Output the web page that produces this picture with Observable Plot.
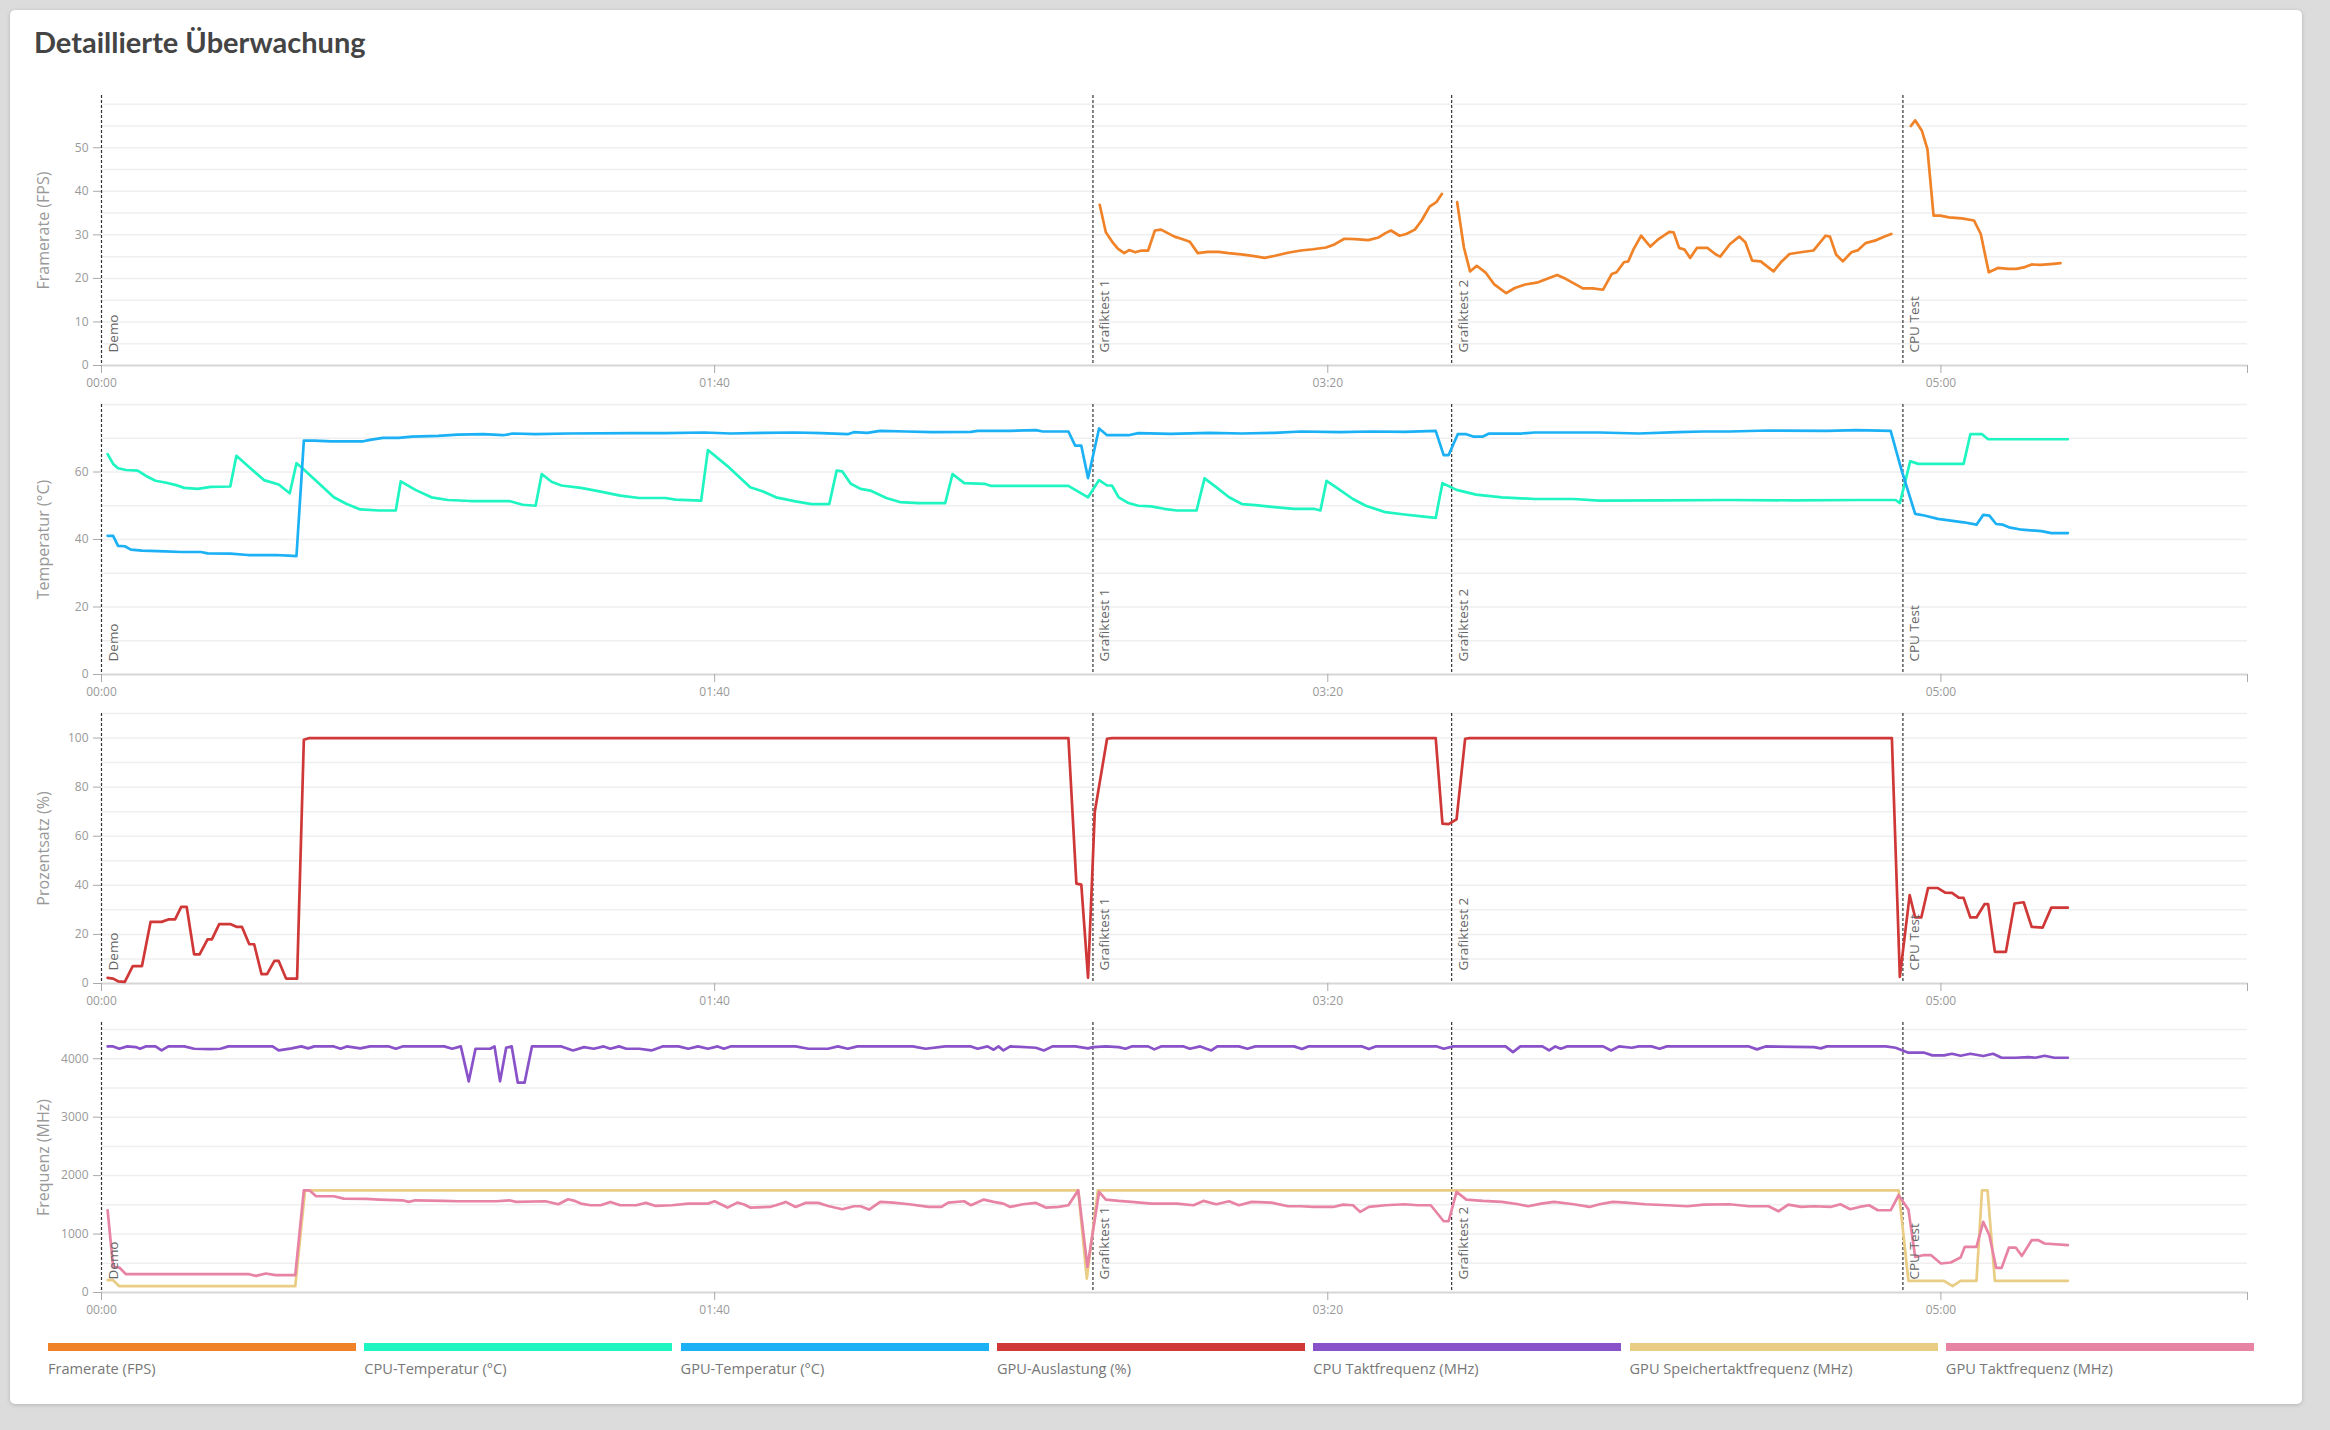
<!DOCTYPE html>
<html>
<head>
<meta charset="utf-8">
<script src="https://cdn.jsdelivr.net/npm/d3@7"></script>
<script src="https://cdn.jsdelivr.net/npm/@observablehq/plot@0.6"></script>
<style>
  html, body { margin: 0; padding: 0; }
  body { width: 2330px; height: 1430px; background: #dcdcdc; position: relative; overflow: hidden; font-family: "Open Sans", sans-serif; }
  #card { position: absolute; left: 10px; top: 10px; width: 2292px; height: 1394px; background: #fff; border-radius: 5px; box-shadow: 0 1px 4px rgba(0,0,0,0.18); }
  #title { position: absolute; left: 34px; top: 25px; font-family: Lato, sans-serif; font-weight: 700; font-size: 29px; line-height: 34px; color: #444; }
  .panel { position: absolute; left: 0; }
  .lg { position: absolute; }
  .lg .bar { width: 308px; height: 8px; }
  .lg .lab { margin-top: 8px; font-size: 14.6px; line-height: 18px; color: #777; white-space: nowrap; }
</style>
</head>
<body>
<div id="card"></div>
<div id="title">Detaillierte Überwachung</div>
<div id="charts"></div>
<div id="legend"></div>
<script>
// ---------- data (time in seconds, value) ----------
const markerNames = ["Demo", "Grafiktest 1", "Grafiktest 2", "CPU Test"];
const markerTimes = [0, 161.7, 220.2, 293.8];

const seriesNames = ["Framerate (FPS)", "CPU-Temperatur (°C)", "GPU-Temperatur (°C)", "GPU-Auslastung (%)", "CPU Taktfrequenz (MHz)", "GPU Speichertaktfrequenz (MHz)", "GPU Taktfrequenz (MHz)"];
const seriesColors = ["#f08228", "#1ef5c1", "#1cb0f5", "#d03838", "#8a52c8", "#e9cd84", "#e884a3"];

const fpsGT1 = [[162.8,36.9],[163.8,30.6],[164.9,28.3],[165.8,26.8],[166.8,25.8],[167.6,26.5],[168.6,26],[169.6,26.4],[170.7,26.4],[171.8,31],[172.8,31.2],[173.9,30.4],[175.0,29.6],[176.1,29.1],[177.5,28.4],[178.8,25.8],[180.4,26.1],[182.2,26.1],[183.8,25.8],[185.9,25.5],[188.0,25.1],[189.7,24.7],[191.4,25.2],[193.5,25.9],[195.6,26.4],[197.6,26.7],[199.7,27.1],[201.1,27.8],[202.7,29.1],[204.5,29],[206.6,28.8],[208.3,29.4],[209.4,30.4],[210.3,31],[211.7,29.8],[212.8,30.2],[214.2,31.2],[215.3,33.3],[216.6,36.5],[217.7,37.5],[218.6,39.4]];
const fpsGT2 = [[221.1,37.5],[222.2,27.1],[223.2,21.6],[224.3,22.9],[225.7,21.4],[227.1,18.7],[229.1,16.6],[230.5,17.8],[232.2,18.6],[234.3,19.1],[235.9,20],[237.4,20.8],[238.8,19.9],[241.6,17.7],[243.2,17.7],[244.9,17.4],[246.3,21],[247.1,21.4],[248.3,23.7],[249.0,23.9],[249.9,26.8],[251.1,29.8],[252.6,27.3],[254.0,29.1],[255.7,30.7],[256.4,30.6],[257.3,27],[258.2,26.6],[259.1,24.7],[260.2,27],[261.9,27],[263.3,25.5],[264.0,25],[265.6,27.9],[267.1,29.6],[268.1,28.3],[269.2,24.1],[270.6,23.9],[272.7,21.6],[273.9,23.7],[275.3,25.6],[277.1,26],[279.2,26.4],[281.2,29.8],[281.9,29.6],[282.9,25.5],[284.0,23.9],[285.4,26],[286.5,26.5],[287.7,28.1],[289.5,28.8],[290.9,29.7],[291.9,30.2]];
const fpsCPU = [[295.1,55],[295.8,56.3],[296.9,53.9],[297.8,49.7],[298.8,34.4],[299.9,34.4],[301.3,34],[303.4,33.8],[305.4,33.3],[306.5,30.2],[307.8,21.4],[309.3,22.4],[311.0,22.2],[312.3,22.2],[313.7,22.6],[314.8,23.2],[316.2,23.1],[317.9,23.3],[319.5,23.5]];

const cpuTemp = [[1.0,65.3],[1.9,62.4],[2.7,61.1],[4.0,60.6],[5.9,60.4],[7.2,58.9],[8.8,57.4],[10.4,56.9],[12.0,56.2],[13.5,55.3],[15.7,55.0],[17.8,55.6],[21.0,55.7],[22.0,64.8],[24.1,61.4],[26.5,57.6],[28.9,56.3],[30.7,53.7],[31.8,62.6],[32.6,61.4],[35.3,56.9],[37.9,52.5],[40.0,50.5],[42.2,48.9],[45.3,48.6],[48.0,48.6],[48.8,57.2],[51.2,54.7],[53.8,52.5],[56.5,51.7],[60.2,51.4],[66.5,51.4],[68.7,50.3],[70.8,50.0],[71.8,59.4],[73.4,57.1],[75.0,56.0],[78.2,55.3],[81.4,54.2],[84.6,53.0],[87.7,52.3],[92.0,52.3],[93.6,51.8],[97.8,51.5],[98.9,66.5],[102.0,61.9],[105.8,55.5],[107.9,54.2],[110.0,52.5],[113.2,51.3],[115.8,50.5],[118.7,50.5],[119.9,60.4],[120.8,60.2],[122.2,56.5],[123.8,55.0],[125.4,54.5],[128.0,52.3],[130.2,51.1],[133.3,50.8],[137.6,50.8],[138.8,59.4],[140.7,56.7],[144.0,56.5],[145.0,55.9],[157.7,55.9],[160.9,52.5],[162.7,57.6],[164.0,56.0],[164.8,56.0],[165.9,52.5],[167.5,50.8],[169.1,50.0],[171.2,49.8],[173.3,49.1],[175.4,48.6],[178.6,48.6],[179.9,58.1],[181.8,55.5],[183.9,52.5],[186.0,50.5],[188.2,50.2],[191.3,49.6],[194.5,49.1],[197.7,49.1],[198.8,48.6],[199.8,57.4],[201.9,54.8],[204.1,52.0],[206.2,50.0],[209.4,48.1],[212.5,47.4],[215.7,46.8],[217.6,46.4],[218.7,56.7],[221.0,54.7],[224.2,53.3],[228.4,52.5],[233.7,52.0],[240.1,52.0],[244.3,51.5],[254.9,51.6],[265.5,51.7],[276.1,51.6],[286.7,51.7],[292.6,51.7],[293.3,50.8],[295.0,63.2],[296.3,62.4],[303.7,62.4],[304.8,71.2],[306.7,71.2],[307.7,69.7],[313.2,69.7],[320.7,69.7]];
const gpuTemp = [[1.0,41.1],[1.9,41.1],[2.7,38.1],[3.8,38.0],[4.8,37.0],[6.6,36.7],[10.4,36.5],[13.0,36.3],[16.2,36.3],[17.3,35.9],[21.0,35.8],[23.9,35.4],[28.4,35.4],[30.5,35.2],[31.8,35.1],[33.0,69.3],[34.7,69.3],[37.4,69.1],[42.7,69.1],[43.8,69.5],[45.9,70.1],[48.5,70.1],[50.6,70.5],[54.9,70.7],[58.1,71.1],[62.3,71.2],[65.5,70.9],[67.1,71.4],[70.8,71.2],[76.1,71.4],[86.7,71.5],[92.0,71.5],[98.3,71.7],[102.6,71.4],[107.9,71.6],[113.2,71.7],[117.4,71.5],[121.7,71.2],[122.7,71.8],[124.9,71.6],[127.0,72.2],[131.2,72.0],[135.5,71.8],[141.8,71.9],[142.9,72.2],[148.2,72.2],[152.4,72.4],[153.5,72.0],[157.7,72.0],[158.8,67.8],[159.8,67.8],[160.9,58.2],[162.7,72.9],[164.0,70.9],[167.5,70.9],[169.1,71.5],[174.4,71.3],[180.7,71.6],[186.0,71.4],[191.3,71.6],[195.6,72.0],[201.9,71.8],[207.2,72.0],[212.5,71.9],[217.6,72.2],[218.9,65.0],[219.7,65.0],[221.2,71.2],[222.6,71.2],[223.7,70.5],[225.3,70.5],[226.3,71.4],[231.6,71.4],[233.7,71.7],[244.3,71.7],[250.7,71.4],[257.1,71.8],[261.3,72.0],[265.5,72.0],[271.9,72.3],[281.4,72.2],[286.2,72.4],[291.8,72.2],[293.6,60.4],[295.8,47.6],[297.3,47.1],[299.5,46.1],[301.6,45.6],[303.7,45.1],[305.8,44.4],[306.9,47.3],[307.9,47.1],[309.0,44.6],[310.1,44.4],[311.1,43.6],[313.2,42.9],[316.4,42.5],[318.0,41.9],[320.7,41.9]];

const gpuLoad = [[1.0,2.3],[1.9,2.0],[2.7,0.9],[3.8,0.7],[5.1,7.1],[6.6,7.1],[8.0,25.1],[9.8,25.1],[10.9,26.1],[12.0,26.1],[13.0,31.2],[13.9,31.2],[15.1,11.9],[16.0,11.9],[17.3,18.0],[18.0,18.0],[19.2,24.2],[21.0,24.2],[22.0,23.1],[22.9,23.1],[24.1,16.0],[24.9,16.0],[26.1,3.8],[27.0,3.8],[28.2,9.2],[28.9,9.2],[30.1,2.0],[31.9,2.0],[33.0,99.3],[33.9,100],[157.7,100],[159.0,40.7],[159.8,40.3],[160.9,2.4],[162.0,70],[164.0,99.7],[164.8,100],[217.6,100],[218.7,65.1],[219.7,64.9],[221.0,66.9],[222.4,99.7],[223.1,100],[292.0,100],[293.3,2.7],[294.9,36.0],[295.8,26.9],[296.8,26.9],[297.9,38.9],[299.5,38.9],[300.7,37.0],[301.8,36.9],[302.9,35.0],[303.7,34.9],[304.8,26.9],[305.8,26.9],[307.1,32.3],[307.7,32.3],[308.8,12.9],[310.6,12.9],[312.0,32.6],[313.5,33.1],[314.8,23.1],[316.6,22.8],[318.0,30.9],[320.7,30.9]];

const cpuClock = [[1.0,4211],[1.9,4211],[2.9,4171],[4.2,4211],[5.6,4199],[6.3,4171],[7.2,4211],[8.8,4211],[9.8,4142],[10.9,4211],[13.5,4211],[15.1,4171],[17.8,4165],[19.4,4171],[20.7,4211],[27.9,4211],[28.9,4142],[31.0,4177],[32.6,4211],[33.7,4177],[34.7,4211],[37.9,4211],[39.0,4171],[40.0,4211],[42.2,4177],[43.8,4211],[46.9,4211],[48.0,4171],[49.1,4211],[55.9,4211],[57.2,4171],[58.6,4211],[59.9,3613],[61.0,4171],[63.4,4171],[64.1,4211],[65.0,3613],[66.0,4188],[66.9,4211],[67.9,3590],[69.0,3590],[70.2,4211],[75.0,4211],[76.9,4142],[78.7,4199],[80.3,4171],[81.9,4211],[83.0,4171],[84.4,4211],[85.6,4171],[87.7,4171],[89.7,4142],[91.5,4211],[94.1,4211],[95.7,4171],[97.3,4211],[98.9,4171],[100.5,4211],[101.5,4171],[102.6,4211],[113.2,4211],[115.3,4171],[118.5,4171],[120.1,4211],[121.7,4171],[123.3,4211],[132.3,4211],[134.4,4171],[137.6,4211],[141.8,4211],[142.9,4171],[144.5,4211],[145.5,4154],[146.3,4211],[147.1,4142],[148.2,4211],[152.4,4188],[153.7,4142],[155.1,4211],[158.8,4211],[160.9,4177],[161.7,4199],[163.8,4211],[165.9,4199],[167.0,4171],[168.0,4211],[170.7,4211],[171.7,4160],[172.8,4211],[176.5,4211],[177.5,4171],[179.2,4211],[180.2,4171],[181.0,4142],[182.0,4211],[185.5,4211],[186.9,4171],[188.2,4211],[194.5,4211],[195.8,4165],[196.8,4211],[205.6,4211],[206.7,4165],[207.8,4211],[217.8,4211],[218.9,4171],[220.5,4211],[229.0,4211],[230.2,4114],[231.4,4211],[235.0,4211],[236.1,4142],[237.1,4211],[238.0,4171],[239.0,4211],[244.9,4211],[246.2,4142],[247.5,4211],[249.6,4188],[250.7,4211],[252.8,4211],[254.1,4171],[255.3,4211],[268.7,4211],[270.0,4160],[271.4,4211],[279.3,4199],[280.4,4177],[281.4,4211],[291.0,4211],[292.6,4188],[294.7,4103],[297.3,4103],[298.6,4057],[300.5,4057],[301.8,4085],[303.2,4051],[304.8,4085],[306.9,4046],[308.5,4085],[309.9,4017],[312.2,4017],[314.3,4028],[315.4,4017],[316.9,4051],[318.5,4017],[320.7,4017]];
const gpuMemClock = [[1.0,211],[1.9,211],[2.9,108],[31.6,108],[33.2,1749],[159.3,1749],[160.7,239],[162.5,1749],[293.1,1749],[294.7,199],[300.5,199],[301.9,108],[303.2,199],[305.8,199],[306.7,1749],[307.6,1749],[308.8,199],[320.7,199]];
const gpuClock = [[1.0,1407],[1.9,439],[2.9,427],[4.0,313],[24.1,313],[25.2,285],[26.8,325],[28.4,296],[31.6,296],[33.0,1749],[33.9,1749],[35.0,1647],[37.9,1647],[39.5,1607],[43.2,1601],[45.3,1590],[49.1,1578],[50.1,1550],[51.2,1578],[55.9,1567],[58.1,1561],[64.4,1561],[66.5,1578],[67.6,1550],[72.4,1561],[74.5,1510],[76.1,1595],[77.2,1567],[78.2,1521],[79.8,1493],[81.4,1493],[83.0,1550],[84.6,1493],[87.2,1493],[88.8,1533],[90.4,1481],[93.0,1493],[95.7,1521],[98.9,1521],[100.0,1561],[102.1,1453],[103.7,1538],[104.7,1510],[105.8,1453],[109.0,1464],[110.0,1493],[111.6,1550],[113.2,1464],[114.8,1533],[116.9,1533],[118.5,1481],[120.8,1425],[122.7,1476],[123.8,1476],[125.2,1419],[127.0,1550],[129.1,1538],[131.7,1510],[134.9,1464],[137.0,1464],[138.1,1538],[140.7,1561],[141.8,1493],[143.9,1590],[145.5,1550],[147.1,1521],[148.2,1464],[150.3,1510],[152.4,1533],[154.0,1453],[156.1,1464],[157.7,1493],[159.3,1749],[160.8,439],[162.7,1721],[163.8,1590],[165.9,1567],[168.0,1550],[171.2,1521],[175.4,1521],[178.1,1493],[179.7,1567],[181.8,1510],[183.9,1561],[185.5,1493],[187.6,1550],[190.8,1538],[193.5,1476],[195.6,1476],[197.7,1464],[200.9,1464],[202.5,1504],[204.1,1493],[205.3,1379],[206.7,1464],[209.4,1493],[212.5,1510],[214.7,1493],[216.8,1493],[218.9,1219],[219.7,1219],[221.0,1721],[222.6,1590],[225.3,1567],[228.4,1550],[231.1,1510],[232.7,1476],[234.8,1521],[236.9,1550],[240.1,1510],[242.7,1464],[244.3,1510],[246.5,1550],[248.6,1538],[251.8,1510],[255.5,1493],[258.7,1476],[261.3,1504],[265.5,1510],[268.7,1476],[271.9,1476],[273.5,1390],[275.1,1504],[277.2,1464],[279.3,1476],[282.0,1464],[283.6,1510],[285.2,1425],[286.7,1464],[288.3,1493],[289.7,1407],[291.8,1407],[293.1,1664],[294.7,1419],[295.8,610],[297.1,638],[298.4,638],[300.0,496],[301.6,513],[303.2,598],[303.9,781],[305.8,781],[306.9,1208],[307.9,980],[309.0,422],[309.9,422],[311.1,769],[312.2,769],[313.2,627],[314.8,895],[315.9,895],[316.9,838],[320.7,809]];

const xTicks = [0, 100, 200, 300, 350];
const yLabels = ["Framerate (FPS)", "Temperatur (°C)", "Prozentsatz (%)", "Frequenz (MHz)"];
const yDomainMax = [62, 80, 110, 4620];
const yTicks = [[0,10,20,30,40,50],[0,20,40,60],[0,20,40,60,80,100],[0,1000,2000,3000,4000]];
const yGrid = [[5,10,15,20,25,30,35,40,45,50,55,60],[10,20,30,40,50,60,70,80],[10,20,30,40,50,60,70,80,90,100,110],[500,1000,1500,2000,2500,3000,3500,4000,4500]];

// ---------- drawing ----------
const markers = markerNames.map((name, i) => ({name, t: markerTimes[i]}));
const fmtTime = s => s === 350 ? "" : `${String(Math.floor(s / 60)).padStart(2, "0")}:${String(s % 60).padStart(2, "0")}`;

const panels = [
  [{data: fpsGT1, c: 0}, {data: fpsGT2, c: 0}, {data: fpsCPU, c: 0}],
  [{data: cpuTemp, c: 1}, {data: gpuTemp, c: 2}],
  [{data: gpuLoad, c: 3}],
  [{data: cpuClock, c: 4}, {data: gpuMemClock, c: 5}, {data: gpuClock, c: 6}]
];
const panelTops = [85, 394, 703, 1012];

const charts = document.getElementById("charts");
panels.forEach((series, p) => {
  const chart = Plot.plot({
    width: 2330,
    height: 309,
    marginLeft: 101,
    marginRight: 83,
    marginTop: 10,
    marginBottom: 29,
    x: {domain: [0, 350]},
    y: {domain: [0, yDomainMax[p]]},
    style: {background: "transparent", fontFamily: "'Open Sans', sans-serif", overflow: "visible"},
    marks: [
      Plot.ruleY(yGrid[p], {stroke: "#efefef", strokeWidth: 1.5}),
      Plot.ruleY([0], {stroke: "#d6d6d6", strokeWidth: 2}),
      Plot.ruleX(markers, {x: "t", stroke: "#333", strokeWidth: 1.2, strokeDasharray: "3,2"}),
      ...series.map(s => Plot.line(s.data, {x: d => d[0], y: d => d[1], stroke: seriesColors[s.c], strokeWidth: 2.7, strokeLinejoin: "round"})),
      Plot.text(markers, {x: "t", text: "name", frameAnchor: "bottom", rotate: -90, textAnchor: "start", lineAnchor: "middle", dx: 12, dy: -13, fontSize: 13.5, fill: "#666"}),
      Plot.axisX(xTicks, {tickFormat: fmtTime, tickSize: 8, tickPadding: 5, fontSize: 12, fill: "#999", stroke: "#aaa", label: null}),
      Plot.axisY(yTicks[p], {tickSize: 8, tickPadding: 5, fontSize: 12, fill: "#999", stroke: "#aaa", label: null, tickFormat: d => String(d)}),
      Plot.text([yLabels[p]], {frameAnchor: "left", textAnchor: "middle", lineAnchor: "middle", dx: -58, rotate: -90, text: d => d, fontSize: 16, fill: "#999"})
    ]
  });
  const wrap = document.createElement("div");
  wrap.className = "panel";
  wrap.style.top = panelTops[p] + "px";
  wrap.appendChild(chart);
  charts.appendChild(wrap);
});

// legend
const legend = document.getElementById("legend");
seriesNames.forEach((name, i) => {
  const item = document.createElement("div");
  item.className = "lg";
  item.style.left = (48 + i * 316.3) + "px";
  item.style.top = "1343px";
  item.innerHTML = `<div class="bar" style="background:${seriesColors[i]}"></div><div class="lab"></div>`;
  item.querySelector(".lab").textContent = name;
  legend.appendChild(item);
});
</script>
</body>
</html>
